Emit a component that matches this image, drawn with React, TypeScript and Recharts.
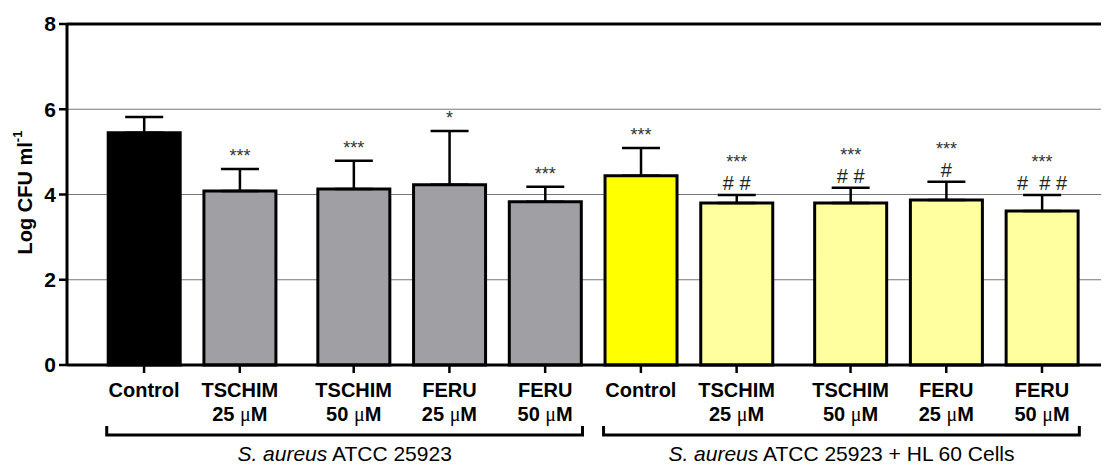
import React from 'react';
import {
  BarChart,
  Bar,
  XAxis,
  YAxis,
  CartesianGrid,
  ErrorBar,
  Cell,
  LabelList,
  ReferenceLine,
} from 'recharts';

// ---------- data ----------
const compounds = ['Control', 'TSCHIM', 'TSCHIM', 'FERU', 'FERU', 'Control', 'TSCHIM', 'TSCHIM', 'FERU', 'FERU'];
const doses = ['', '25', '50', '25', '50', '', '25', '50', '25', '50'];
const groupOf = [0, 0, 0, 0, 0, 1, 1, 1, 1, 1];
const groupItalic = ['S. aureus', 'S. aureus'];
const groupRest = [' ATCC 25923', ' ATCC 25923 + HL 60 Cells'];
const logCfu = [5.45, 4.08, 4.13, 4.23, 3.83, 4.44, 3.8, 3.8, 3.87, 3.61];
const sem = [0.37, 0.52, 0.66, 1.26, 0.35, 0.65, 0.19, 0.36, 0.43, 0.38];
const stars = ['', '***', '***', '*', '***', '***', '***', '***', '***', '***'];
const hashes = ['', '', '', '', '', '', '# #', '# #', '#', '#\u00a0\u00a0#\u00a0#'];
const yTicks = [0, 2, 4, 6, 8];

// ---------- style / layout ----------
const FONT = '"Liberation Sans", Arial, Helvetica, sans-serif';
const fills = ['#000000', '#a0a0a4', '#a0a0a4', '#a0a0a4', '#a0a0a4', '#ffff00', '#ffffa0', '#ffffa0', '#ffffa0', '#ffffa0'];
const WIDE_GAP_BEFORE = [2, 7];
const WIDE_GAP = 0.19;
const BAR_HALF = 0.39;

const positions = compounds.map((_, i) => i + WIDE_GAP * WIDE_GAP_BEFORE.filter((g) => g <= i).length);

const data = compounds.map((c, i) => ({
  pos: positions[i],
  value: logCfu[i],
  err: [0, sem[i]],
}));

const groups = [0, 1].map((g) => {
  const idx = groupOf.map((v, i) => (v === g ? i : -1)).filter((i) => i >= 0);
  return { g, from: positions[idx[0]] - BAR_HALF, to: positions[idx[idx.length - 1]] + BAR_HALF };
});

const XTick = (props: any) => {
  const { x, y, index } = props;
  const i = typeof index === 'number' ? index : positions.indexOf(props.payload?.value);
  if (i < 0) return null;
  const base = y + 22;
  return (
    <text x={x} y={base} textAnchor="middle" fontFamily={FONT} fontSize={20} fontWeight={700} fill="#000">
      <tspan x={x} y={base}>{compounds[i]}</tspan>
      {doses[i] ? (
        <tspan x={x} y={base + 24}>
          {doses[i] + ' '}
          <tspan fontFamily='"Liberation Serif", "DejaVu Serif", serif' fontWeight={400}>μ</tspan>
          M
        </tspan>
      ) : null}
    </text>
  );
};

const Annot = (props: any) => {
  const { x, y, width, height, index } = props;
  if (index == null) return null;
  const v = logCfu[index];
  const ppu = height / v;
  const cx = x + width / 2;
  const errTop = y - sem[index] * ppu;
  const out: any[] = [];
  let starCenter = errTop - 17;
  if (hashes[index]) {
    const hashCenter = errTop - 12;
    out.push(
      <text key="h" x={cx} y={hashCenter + 7} textAnchor="middle" fontFamily={FONT} fontSize={20} fill="#222">
        {hashes[index]}
      </text>
    );
    starCenter = hashCenter - 25;
  }
  if (stars[index]) {
    out.push(
      <text key="s" x={cx} y={starCenter + 10} textAnchor="middle" fontFamily={FONT} fontSize={18} fill="#333">
        {stars[index]}
      </text>
    );
  }
  return <g>{out}</g>;
};

const makeBracket = (g: number) => (p: any) => {
  const { x1, x2, y1 } = p;
  const yb = y1 + 70;
  return (
    <g>
      <path d={`M${x1},${yb - 9} L${x1},${yb} L${x2},${yb} L${x2},${yb - 9}`} stroke="#000" strokeWidth={3} fill="none" />
      <text x={(x1 + x2) / 2} y={y1 + 96} textAnchor="middle" fontFamily={FONT} fontSize={21} fill="#000">
        <tspan fontStyle="italic">{groupItalic[g]}</tspan>
        {groupRest[g]}
      </text>
    </g>
  );
};

const YLabel = (props: any) => {
  const vb = props.viewBox || { x: 8, y: 24, width: 59, height: 341 };
  const cx = vb.x + 17;
  const cy = vb.y + vb.height / 2 - 2;
  return (
    <text
      x={cx}
      y={cy}
      transform={`rotate(-90 ${cx} ${cy})`}
      textAnchor="middle"
      dominantBaseline="central"
      fontFamily={FONT}
      fontSize={20}
      fontWeight={700}
      fill="#000"
    >
      Log CFU ml
      <tspan fontSize={13} dy={-8}>-1</tspan>
    </text>
  );
};

export default function App() {
  return (
    <BarChart
      width={1101}
      height={459}
      data={data}
      margin={{ top: 16, right: 0, bottom: 0, left: 0 }}
      style={{ fontFamily: FONT }}
    >
      <CartesianGrid horizontal vertical={false} stroke="#777" strokeWidth={1.2} />
      <XAxis
        type="number"
        dataKey="pos"
        domain={[-0.805, 10.08]}
        allowDataOverflow
        ticks={positions}
        interval={0}
        height={102}
        tickSize={8}
        axisLine={{ stroke: '#000', strokeWidth: 3 }}
        tickLine={{ stroke: '#000', strokeWidth: 2.5 }}
        tick={<XTick />}
      />
      <YAxis
        domain={[0, 8]}
        ticks={yTicks}
        width={59}
        tickSize={8}
        tickMargin={3}
        axisLine={{ stroke: '#000', strokeWidth: 3 }}
        tickLine={{ stroke: '#000', strokeWidth: 2.5 }}
        tick={{ fill: '#000', fontSize: 21, fontWeight: 700, fontFamily: FONT }}
        label={<YLabel />}
      />
      <ReferenceLine y={8} stroke="#000" strokeWidth={3} />
      <Bar dataKey="value" barSize={72} stroke="#000" strokeWidth={3} isAnimationActive={false}>
        {data.map((d, i) => (
          <Cell key={i} fill={fills[i]} />
        ))}
        <ErrorBar dataKey="err" direction="y" width={19} stroke="#000" strokeWidth={2.5} isAnimationActive={false} />
        <LabelList dataKey="value" content={<Annot />} />
      </Bar>
      {groups.map((gr) => (
        <ReferenceLine
          key={gr.g}
          segment={[{ x: gr.from, y: 0 }, { x: gr.to, y: 0 }]}
          stroke="none"
          shape={makeBracket(gr.g)}
        />
      ))}
    </BarChart>
  );
}
